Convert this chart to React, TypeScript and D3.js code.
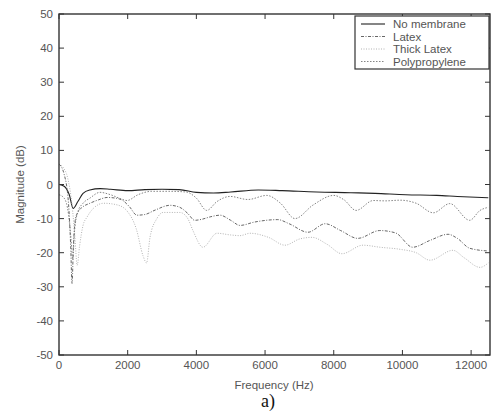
import React from "react";
import * as d3 from "d3";

const xTicks = [0, 2000, 4000, 6000, 8000, 10000, 12000];
const yTicks = [50, 40, 30, 20, 10, 0, -10, -20, -30, -40, -50];
const legendLabels = ["No membrane", "Latex", "Thick Latex", "Polypropylene"];

const noMembraneF = [0, 150, 300, 410, 550, 700, 900, 1200, 1500, 2000, 2500, 3000, 3500, 4000, 4500, 5000, 5800, 6500, 7500, 8500, 9200, 10100, 11000, 11600, 12500];
const noMembraneV = [0, -0.5, -3, -7, -5, -2.6, -1.6, -1.2, -1.4, -1.8, -1.5, -1.4, -1.5, -2.3, -2.5, -2.2, -1.6, -1.8, -2.2, -2.4, -2.6, -3, -3.2, -3.5, -3.9];

const latexF = [0, 150, 280, 340, 380, 420, 480, 560, 700, 900, 1150, 1400, 1650, 1860, 2050, 2270, 2500, 2800, 3230, 3520, 3750, 3950, 4160, 4400, 4690, 5000, 5270, 5700, 6370, 6700, 7250, 7750, 8200, 8700, 9340, 9800, 10300, 10800, 11330, 11600, 11960, 12500];
const latexV = [6, 3, -6, -18, -29, -18, -10, -8, -6.5, -5.5, -4.5, -3.8, -4, -4.7, -6.5, -9, -8.8, -7.5, -6.1, -6.7, -8.5, -10.5, -10.2, -9.5, -9, -10.5, -12, -11, -10.3, -11.5, -14, -11.5, -13.5, -15.8, -13.5, -14.2, -18.4, -16.4, -14.6, -15.8, -18.7, -19.5];

const thickLatexF = [0, 120, 250, 380, 460, 530, 600, 700, 820, 1000, 1300, 1700, 2000, 2250, 2450, 2550, 2650, 2850, 3030, 3520, 3750, 3900, 4190, 4600, 5000, 5270, 5560, 6100, 6580, 7000, 7370, 7800, 8240, 8850, 9350, 9930, 10400, 10800, 11470, 11800, 12260, 12500];
const thickLatexV = [6, 5, 2, -6, -15, -23.7, -18, -12, -9.5, -7, -5.5, -6, -8, -13, -21, -23, -15.5, -10, -8.2, -8.2, -10, -13.5, -18.4, -14.3, -14.8, -15, -14.3, -15.5, -17.8, -16, -15.5, -17.5, -20.3, -17.8, -18.4, -19, -20, -22.2, -19.3, -21.5, -24.3, -23];

const polyF = [0, 150, 280, 350, 400, 450, 550, 700, 900, 1190, 1500, 1780, 1980, 2300, 2700, 3200, 3700, 4000, 4300, 4600, 4980, 5500, 6050, 6450, 6870, 7400, 8000, 8300, 8650, 9150, 9500, 9930, 10400, 10900, 11380, 11960, 12260, 12500];
const polyV = [-3, -4, -9, -16, -22, -14, -8, -5.5, -4, -2.3, -3, -4.1, -4.7, -3, -2, -2, -2.2, -4, -7.6, -5, -3.5, -4.4, -3.2, -5.5, -10, -6, -3.2, -4.5, -7.6, -4.7, -4.8, -4.6, -5.5, -8.3, -5.6, -10.5, -7.6, -6.7];

const seriesList = [
  { name: legendLabels[0], f: noMembraneF, v: noMembraneV, color: "#222", dash: "none", width: 1.1 },
  { name: legendLabels[1], f: latexF, v: latexV, color: "#555", dash: "3,1.5,1,1.5", width: 0.9 },
  { name: legendLabels[2], f: thickLatexF, v: thickLatexV, color: "#aaa", dash: "1,1.5", width: 0.9 },
  { name: legendLabels[3], f: polyF, v: polyV, color: "#777", dash: "1.5,1.5", width: 0.9 },
];

const W = 495;
const H = 418;
const L = 59;
const R = 490;
const T = 14;
const B = 355;

export default function App() {
  const x = d3.scaleLinear().domain([0, 12550]).range([L, R]);
  const y = d3.scaleLinear().domain([-50, 50]).range([B, T]);
  const font = "'Liberation Sans', Arial, sans-serif";
  const line = d3
    .line<[number, number]>()
    .x((d) => x(d[0]))
    .y((d) => y(d[1]))
    .curve(d3.curveMonotoneX);

  const legX = 355;
  const legY = 16;
  const legW = 134;
  const rowH = 12.5;
  const legH = rowH * 4 + 3;

  return (
    <svg width={W} height={H} style={{ position: "absolute", left: 0, top: 0, background: "#fff" }}>
      <defs>
        <clipPath id="plotclip">
          <rect x={L} y={T} width={R - L} height={B - T} />
        </clipPath>
      </defs>
      <rect x={0} y={0} width={W} height={H} fill="#fff" />
      <g clipPath="url(#plotclip)">
        {seriesList.map((s) => (
          <path
            key={s.name}
            d={line(s.f.map((f, i) => [f, s.v[i]] as [number, number])) || ""}
            fill="none"
            stroke={s.color}
            strokeWidth={s.width}
            strokeDasharray={s.dash}
          />
        ))}
      </g>
      <rect x={L} y={T} width={R - L} height={B - T} fill="none" stroke="#333" strokeWidth={1.4} />
      {xTicks.map((t) => (
        <g key={"x" + t}>
          <line x1={x(t)} x2={x(t)} y1={B} y2={B - 5} stroke="#333" strokeWidth={1} />
          <line x1={x(t)} x2={x(t)} y1={T} y2={T + 5} stroke="#333" strokeWidth={1} />
          <text x={x(t)} y={369} textAnchor="middle" fontFamily={font} fontSize={11.5} fill="#555">
            {t}
          </text>
        </g>
      ))}
      {yTicks.map((t) => (
        <g key={"y" + t}>
          <line x1={L} x2={L + 5} y1={y(t)} y2={y(t)} stroke="#333" strokeWidth={1} />
          <line x1={R} x2={R - 5} y1={y(t)} y2={y(t)} stroke="#333" strokeWidth={1} />
          <text x={53} y={y(t) + 4} textAnchor="end" fontFamily={font} fontSize={11.5} fill="#555">
            {t}
          </text>
        </g>
      ))}
      <text
        x={0}
        y={0}
        transform={`translate(24,${(T + B) / 2}) rotate(-90)`}
        textAnchor="middle"
        fontFamily={font}
        fontSize={11.5}
        fill="#555"
      >
        Magnitude (dB)
      </text>
      <text x={274} y={389} textAnchor="middle" fontFamily={font} fontSize={11.5} fill="#555">
        Frequency (Hz)
      </text>
      <text x={268} y={407} textAnchor="middle" fontFamily="'Liberation Serif', 'Times New Roman', serif" fontSize={18} fill="#111">
        a)
      </text>
      <g>
        <rect x={legX} y={legY} width={legW} height={legH} fill="#fff" stroke="#333" strokeWidth={1.2} />
        {seriesList.map((s, i) => {
          const cy = legY + 8 + i * rowH;
          return (
            <g key={"leg" + s.name}>
              <line x1={legX + 6} x2={legX + 30} y1={cy} y2={cy} stroke={s.color} strokeWidth={s.width} strokeDasharray={s.dash} />
              <text x={legX + 38} y={cy + 4} fontFamily={font} fontSize={11.5} fill="#555">
                {s.name}
              </text>
            </g>
          );
        })}
      </g>
    </svg>
  );
}
